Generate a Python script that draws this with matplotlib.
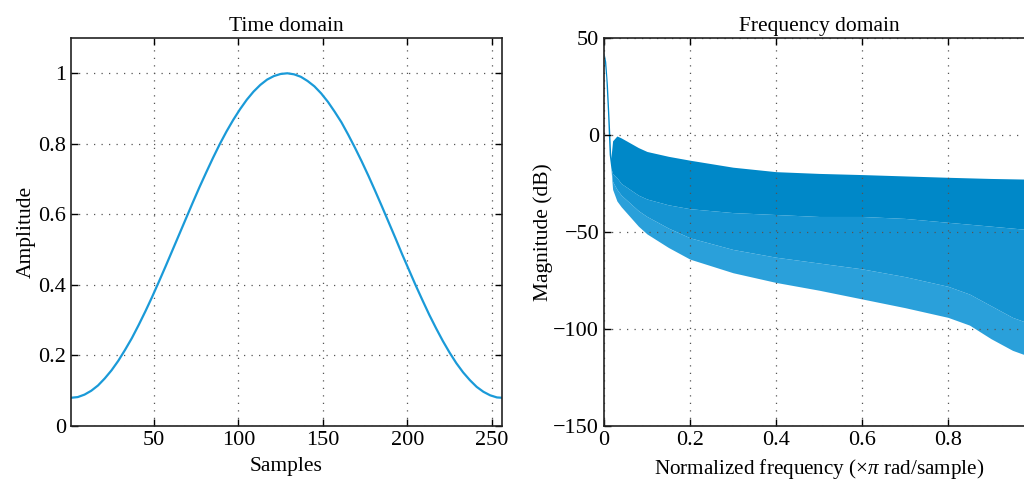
import numpy as np
import matplotlib.pyplot as plt

plt.rcParams['font.family'] = ['Liberation Serif', 'DejaVu Serif']
plt.rcParams['font.size'] = 16
plt.rcParams['mathtext.fontset'] = 'custom'
plt.rcParams['mathtext.rm'] = 'Liberation Serif'
plt.rcParams['mathtext.it'] = 'Liberation Serif:italic'

# ventana en el dominio del tiempo
muestras = [1, 5, 9, 13, 17, 21, 25, 29, 33, 37, 41, 45, 49, 53, 57, 61, 65, 69, 73, 77,
            81, 85, 89, 93, 97, 101, 105, 109, 113, 117, 121, 125, 129, 133, 137, 141,
            145, 149, 153, 157, 161, 165, 169, 173, 177, 181, 185, 189, 193, 197, 201,
            205, 209, 213, 217, 221, 225, 229, 233, 237, 241, 245, 249, 253, 256]
amplitud = [0.080, 0.082, 0.089, 0.100, 0.115, 0.135, 0.158, 0.185, 0.216, 0.249, 0.286,
            0.325, 0.366, 0.409, 0.453, 0.498, 0.543, 0.588, 0.633, 0.677, 0.719, 0.760,
            0.799, 0.835, 0.868, 0.898, 0.925, 0.948, 0.967, 0.982, 0.992, 0.998, 1.000,
            0.997, 0.990, 0.978, 0.963, 0.943, 0.919, 0.891, 0.861, 0.826, 0.789, 0.750,
            0.709, 0.666, 0.622, 0.577, 0.532, 0.486, 0.442, 0.398, 0.356, 0.315, 0.277,
            0.241, 0.208, 0.178, 0.152, 0.130, 0.111, 0.097, 0.087, 0.081, 0.080]

# respuesta en frecuencia: envolventes (dB)
frecuencia = [0, 0.004, 0.008, 0.012, 0.016, 0.02, 0.03, 0.04, 0.06, 0.08, 0.1, 0.15,
              0.2, 0.3, 0.4, 0.5, 0.6, 0.7, 0.8, 0.85, 0.9, 0.95, 1.0]
env_superior = [42.5, 38, 26, 8, -12, -3, -0.5, -1.5, -4, -6.5, -8.5, -11,
                -13, -16.6, -18.9, -19.8, -20.4, -21.1, -21.8, -22.1, -22.4, -22.6, -22.8]
env_media = [40, 30, 12, -10, -17, -20, -22, -25, -28, -31, -33, -36,
             -38, -40, -41, -42, -42, -43, -45, -46, -47, -48, -49]
env_clara = [40, 30, 12, -10, -17, -24, -28, -31, -35, -39, -42, -48,
             -53, -59, -63, -66, -69, -73, -78, -82, -88, -94, -98]
env_inferior = [40, 30, 12, -10, -17, -28, -34, -37, -42, -47, -51, -58,
                -64, -71, -76, -80, -84.5, -89, -94, -98, -105, -111, -115]

fig = plt.figure(figsize=(10.24, 4.83), dpi=100)

def estilo(ax):
    ax.tick_params(direction='in', top=True, right=True, length=5, width=1)
    ax.grid(True, linestyle=(0, (1, 5)), color='#555555', linewidth=0.9)
    for s in ax.spines.values():
        s.set_linewidth(1.2)
        s.set_color('#222222')

ax1 = fig.add_axes([71 / 1024, 57 / 483, 431 / 1024, 388 / 483])
ax1.plot(muestras, amplitud, color='#1a9ad8', linewidth=1.6)
ax1.set_xlim(1, 256)
ax1.set_ylim(0, 1.1)
ax1.set_xticks([50, 100, 150, 200, 250])
ax1.set_yticks([0, 0.2, 0.4, 0.6, 0.8, 1])
ax1.set_yticklabels(['0', '0.2', '0.4', '0.6', '0.8', '1'])
ax1.set_title('Time domain', fontsize=15.5, pad=5)
ax1.set_xlabel('Samples', fontsize=15.5, labelpad=5)
ax1.set_ylabel('Amplitude', fontsize=15.5, labelpad=2)
estilo(ax1)

ax2 = fig.add_axes([604 / 1024, 57 / 483, 430 / 1024, 388 / 483])
ax2.fill_between(frecuencia, env_inferior, env_clara, color='#2aa0da', linewidth=0)
ax2.fill_between(frecuencia, env_clara, env_media, color='#1594d2', linewidth=0)
ax2.fill_between(frecuencia, env_media, env_superior, color='#0088c8', linewidth=0)
ax2.set_xlim(0, 1)
ax2.set_ylim(-150, 50)
ax2.set_xticks([0, 0.2, 0.4, 0.6, 0.8])
ax2.set_xticklabels(['0', '0.2', '0.4', '0.6', '0.8'])
ax2.set_yticks([-150, -100, -50, 0, 50])
ax2.set_title('Frequency domain', fontsize=15.5, pad=5)
ax2.set_xlabel('Normalized frequency ($\\times\\pi$ rad/sample)', fontsize=15.2, labelpad=5)
ax2.set_ylabel('Magnitude (dB)', fontsize=15.5, labelpad=0)
estilo(ax2)

fig.savefig('out.png', dpi=100)
